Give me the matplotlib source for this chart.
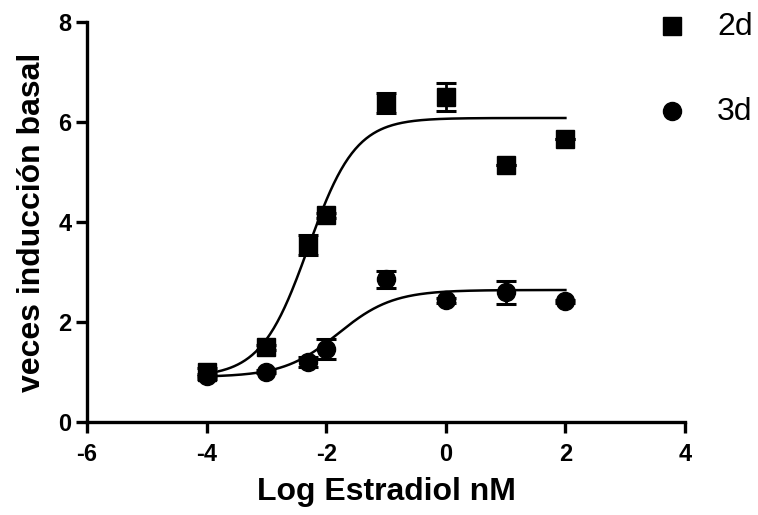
import numpy as np
import matplotlib
matplotlib.use("Agg")
import matplotlib.pyplot as plt

log_dose = [-4, -3, -2.3, -2, -1, 0, 1, 2]
y_2d = [1.0, 1.5, 3.54, 4.14, 6.38, 6.5, 5.14, 5.66]
err_2d = [0.08, 0.05, 0.2, 0.05, 0.2, 0.28, 0.0, 0.0]
y_3d = [0.92, 1.01, 1.2, 1.46, 2.86, 2.44, 2.6, 2.42]
err_3d = [0.05, 0.03, 0.1, 0.2, 0.17, 0.05, 0.23, 0.03]

# fitted sigmoid parameters: bottom, top, logEC50, hill
fit_2d = (0.9, 6.08, -2.3, 1.1)
fit_3d = (0.9, 2.64, -1.8, 0.95)

plt.rcParams['font.family'] = ['Liberation Sans', 'DejaVu Sans']
plt.rcParams['axes.unicode_minus'] = False

fig = plt.figure(figsize=(7.58, 5.15), dpi=100)
ax = fig.add_axes([87/758, 93/515, 598/758, 400/515])

def sig(x, p):
    b, t, c, h = p
    return b + (t - b) / (1 + 10 ** ((c - x) * h))

xs = np.linspace(min(log_dose), max(log_dose), 300)
ax.plot(xs, sig(xs, fit_2d), color='black', lw=1.8, zorder=2)
ax.plot(xs, sig(xs, fit_3d), color='black', lw=1.8, zorder=2)

ax.errorbar(log_dose, y_2d, yerr=err_2d, fmt='s', color='black', ms=13,
            elinewidth=2, capsize=7, capthick=2.2, zorder=3)
ax.errorbar(log_dose, y_3d, yerr=err_3d, fmt='o', color='black', ms=13,
            elinewidth=2, capsize=7, capthick=2.2, zorder=3)

ax.set_xlim(-6, 4)
ax.set_ylim(0, 8)
ax.set_xticks([-6, -4, -2, 0, 2, 4])
ax.set_yticks([0, 2, 4, 6, 8])
for s in ['top', 'right']:
    ax.spines[s].set_visible(False)
for s in ['left', 'bottom']:
    ax.spines[s].set_linewidth(2.4)
ax.tick_params(direction='out', length=8, width=2.4, labelsize=17)
ax.tick_params(axis='x', pad=7)
ax.tick_params(axis='y', pad=3)
for lab in ax.get_xticklabels() + ax.get_yticklabels():
    lab.set_fontweight('bold')

ax.set_xlabel('Log Estradiol nM', fontsize=23, fontweight='bold', labelpad=8)
ax.set_ylabel('veces inducción basal', fontsize=23, fontweight='bold', labelpad=8)

# legend
fig.add_artist(plt.Line2D([672/758], [1 - 26/515], marker='s', color='black', ms=13, ls='none', transform=fig.transFigure))
fig.add_artist(plt.Line2D([672/758], [1 - 111/515], marker='o', color='black', ms=13, ls='none', transform=fig.transFigure))
fig.text(717/758, 1 - 35/515, '2d', fontsize=23, va='baseline', ha='left')
fig.text(717/758, 1 - 120/515, '3d', fontsize=23, va='baseline', ha='left')

fig.savefig('out.png', dpi=100)
